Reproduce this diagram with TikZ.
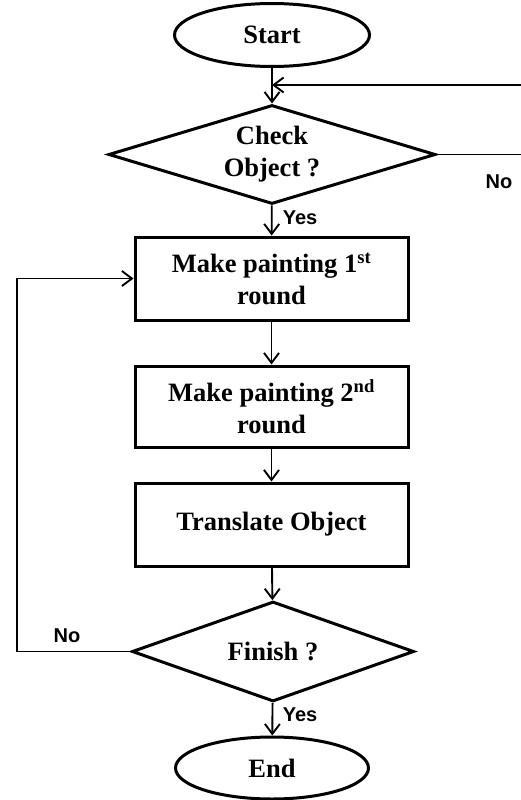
\documentclass[tikz,border=0pt]{standalone}
\usepackage{fontspec}
\setmainfont{Liberation Serif}
\newfontfamily\labfont{Liberation Sans}
\usetikzlibrary{shapes.geometric,arrows.meta}
\tikzset{
  base/.style={draw=black, line width=3pt, align=center, inner sep=0pt,
    font=\fontsize{26.5}{32}\selectfont\bfseries},
  term/.style={base, ellipse},
  proc/.style={base, rectangle},
  decide/.style={base, diamond},
  conn/.style={line width=1.9pt, -{Straight Barb[length=10pt,width=15pt,line width=1.9pt]}},
  plain/.style={line width=1.9pt},
  lab/.style={font=\labfont\fontsize{20}{24}\selectfont\bfseries, inner sep=0pt}
}
\begin{document}
\begin{tikzpicture}[x=1pt,y=-1pt]
\useasboundingbox (0,0) rectangle (521,800);
\node[term, minimum width=195pt, minimum height=63pt] (st) at (272,35) {Start};
\node[decide, minimum width=327pt, minimum height=99pt, aspect=3.3] (chk) at (272,154.5) {Check\\Object ?};
\node[proc, minimum width=273pt, minimum height=83pt] (p1) at (271.5,278.5) {Make painting 1\textsuperscript{st}\\round};
\node[proc, minimum width=273pt, minimum height=81pt] (p2) at (271.5,406.5) {Make painting 2\textsuperscript{nd}\\round};
\node[proc, minimum width=273pt, minimum height=83pt] (p3) at (271.5,524.5) {Translate Object};
\node[decide, minimum width=282pt, minimum height=100pt, aspect=2.8] (fin) at (273,651.5) {Finish ?};
\node[term, minimum width=193pt, minimum height=62pt] (en) at (272,768) {End};

\coordinate (j) at (272,85);
\coordinate (r1) at (521,154.5);
\coordinate (r2) at (521,85);
\coordinate (lc) at (17,651.5);

\draw[conn] (st) -- (chk);
\draw[plain] (chk.east) -- (r1);
\draw[conn] (r2) -- (j);
\draw[conn] (chk) -- (p1);
\draw[conn] (p1) -- (p2);
\draw[conn] (p2) -- (p3);
\draw[conn] (p3) -- (fin);
\draw[conn] (fin) -- (en);
\draw[conn] (fin.west) -- (lc) |- (p1.west);

\node[lab] (y1) at (300,218) {Yes};
\node[lab] (n1) at (499,182) {No};
\node[lab] (n2) at (67,636) {No};
\node[lab] (y2) at (300,715) {Yes};
\end{tikzpicture}
\end{document}
